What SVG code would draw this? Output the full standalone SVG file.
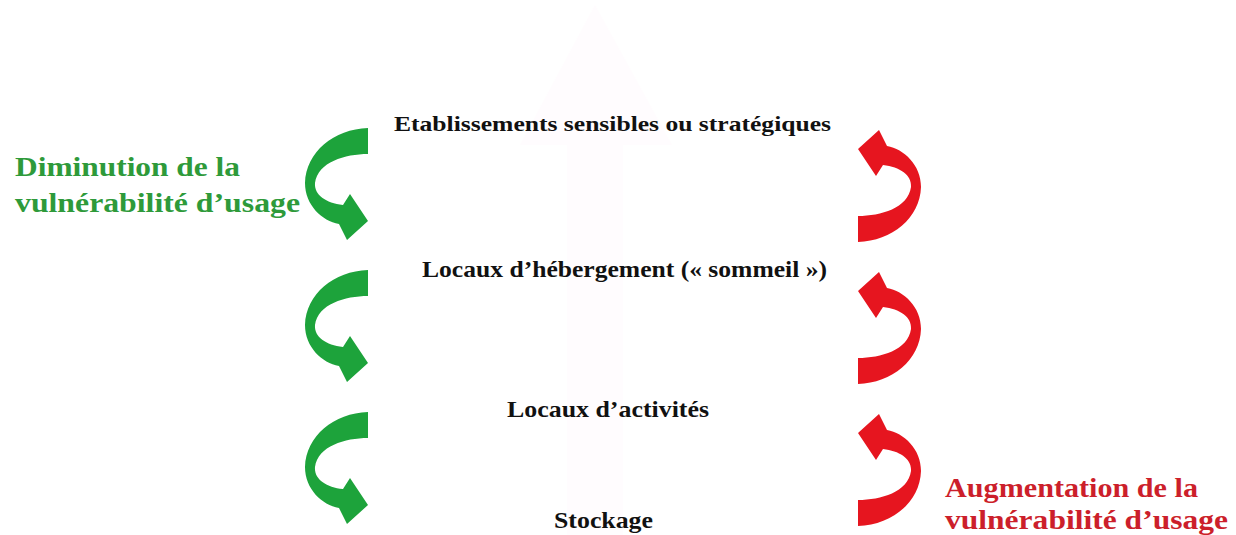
<svg xmlns="http://www.w3.org/2000/svg" width="1236" height="535" viewBox="0 0 1236 535">
<style>
.lbl{font-family:"Liberation Serif","Times New Roman",serif;font-weight:bold;fill:#111;}
.side{font-family:"Liberation Serif","Times New Roman",serif;font-weight:bold;}
.g{fill:#1da33b;}
.r{fill:#e6151f;}
</style>
<defs>
<path id="curl" d="M368,128 L368,154 C345,154 318,162 315,183 C314,195 326,203 343,205 L350,194 L368,221 L347,240 L339,224 C322,221 305,205 305,183 C306,152 334,129 368,128 Z"/>
</defs>
<rect width="1236" height="535" fill="#ffffff"/>
<g id="background-arrow">
<polygon points="595,5 520,145 567,145 567,535 623,535 623,145 672,145" fill="#fffcfe"/>
</g>
<g id="connectors">
<use href="#curl" class="g"/>
<use href="#curl" class="g" transform="translate(0,142)"/>
<use href="#curl" class="g" transform="translate(0,284)"/>
<use href="#curl" class="r" transform="matrix(-1 0 0 -1 1226 370)"/>
<use href="#curl" class="r" transform="matrix(-1 0 0 -1 1226 512)"/>
<use href="#curl" class="r" transform="matrix(-1 0 0 -1 1226 654)"/>
</g>
<g id="node-etablissements">
<text class="lbl" x="394" y="131" font-size="22" textLength="437" lengthAdjust="spacingAndGlyphs">Etablissements sensibles ou stratégiques</text>
</g>
<g id="node-hebergement">
<text class="lbl" x="422" y="277" font-size="24" textLength="405" lengthAdjust="spacingAndGlyphs">Locaux d’hébergement (« sommeil »)</text>
</g>
<g id="node-activites">
<text class="lbl" x="507" y="417" font-size="24" textLength="202" lengthAdjust="spacingAndGlyphs">Locaux d’activités</text>
</g>
<g id="node-stockage">
<text class="lbl" x="554" y="528" font-size="24" textLength="99" lengthAdjust="spacingAndGlyphs">Stockage</text>
</g>
<g id="label-diminution" fill="#2e9a3a">
<text class="side" x="15" y="176" font-size="28" textLength="225" lengthAdjust="spacingAndGlyphs">Diminution de la</text>
<text class="side" x="15" y="212" font-size="28" textLength="285" lengthAdjust="spacingAndGlyphs">vulnérabilité d’usage</text>
</g>
<g id="label-augmentation" fill="#cc1f2b">
<text class="side" x="945" y="497" font-size="28" textLength="253" lengthAdjust="spacingAndGlyphs">Augmentation de la</text>
<text class="side" x="945" y="529" font-size="28" textLength="283" lengthAdjust="spacingAndGlyphs">vulnérabilité d’usage</text>
</g>
</svg>
